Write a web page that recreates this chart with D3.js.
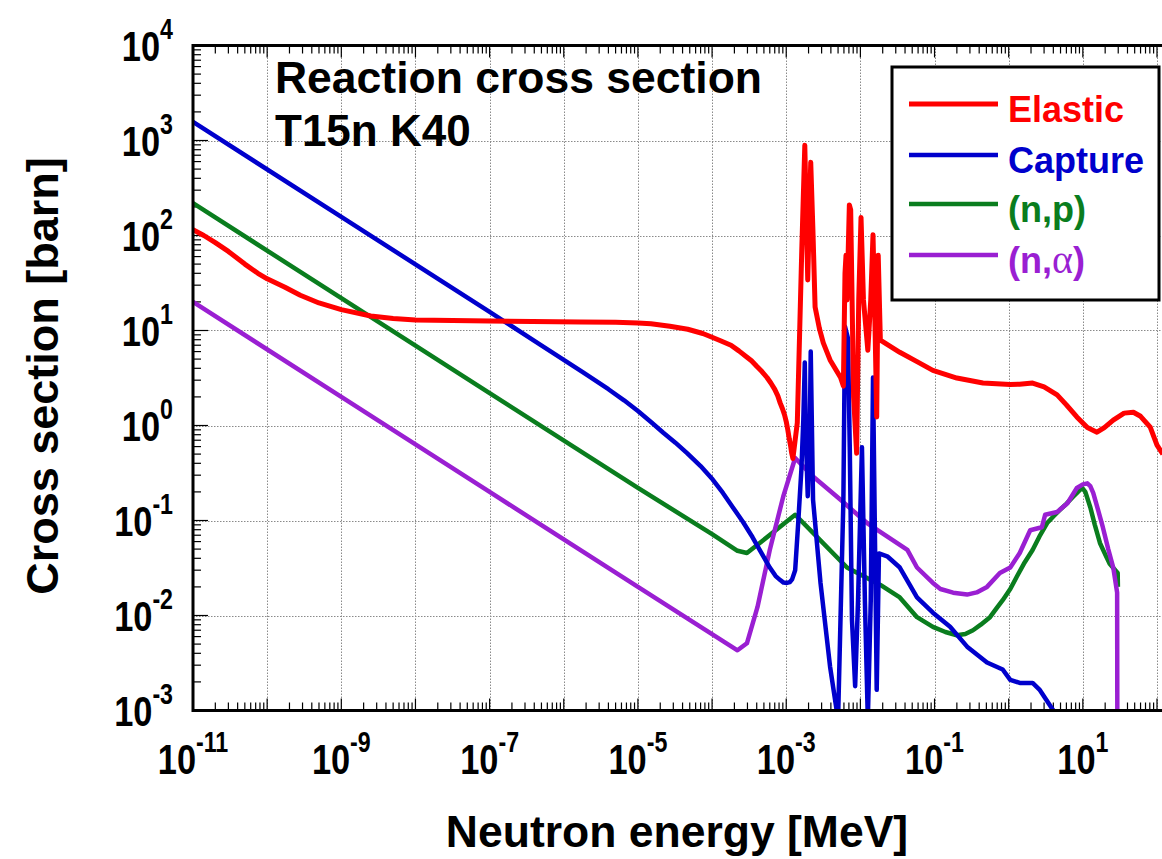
<!DOCTYPE html>
<html>
<head>
<meta charset="utf-8">
<script src="https://cdn.jsdelivr.net/npm/d3@7"></script>
<style>
  html, body { margin: 0; padding: 0; background: #fff; }
  svg { display: block; }
  text { font-family: "Liberation Sans", Arial, Helvetica, sans-serif; font-weight: bold; }
</style>
</head>
<body>
<svg id="chart" width="1162" height="859"></svg>
<script>
// ---------------- data ----------------
const elasticE = [1e-11, 1.4e-11, 2e-11, 3e-11, 5e-11, 7.5e-11, 1e-10, 1.74e-10, 2.8e-10, 5e-10, 1e-9, 2.5e-9, 5e-9, 1e-8, 1e-7, 1.7e-6, 5e-6, 1e-5, 1.5e-5, 2.7e-5, 4.7e-5, 7.5e-5, 1e-4, 1.3e-4, 1.8e-4, 2.3e-4, 2.9e-4, 3.4e-4, 4e-4, 4.7e-4, 5.5e-4, 6.2e-4, 7e-4, 7.7e-4, 8.3e-4, 8.9e-4, 9.5e-4, 1.0e-3, 1.05e-3, 1.1e-3, 1.15e-3, 1.18e-3, 1.23e-3, 1.41e-3, 1.62e-3, 1.78e-3, 1.95e-3, 2.14e-3, 2.29e-3, 2.45e-3, 2.8e-3, 3.16e-3, 3.9e-3, 5.4e-3, 5.9e-3, 6.2e-3, 6.4e-3, 6.6e-3, 7.1e-3, 7.4e-3, 8.1e-3, 8.9e-3, 9.5e-3, 1.02e-2, 1.1e-2, 1.26e-2, 1.38e-2, 1.48e-2, 1.58e-2, 1.66e-2, 1.74e-2, 1.86e-2, 3.4e-2, 5.8e-2, 9.5e-2, 0.2, 0.45, 1.05, 1.4, 2.1, 3.0, 4.5, 6.0, 8.3, 11.5, 15.5, 19.5, 25.7, 36, 48, 60, 81, 100, 120];
const elasticXS = [115, 100, 84, 68, 50, 40, 35, 28.5, 23.5, 19.5, 16.6, 14.2, 13.4, 12.9, 12.6, 12.3, 12.2, 12.0, 11.8, 11.1, 10.3, 9.3, 8.5, 7.8, 7.0, 6.1, 5.3, 4.8, 4.2, 3.7, 3.2, 2.8, 2.4, 2.05, 1.72, 1.5, 1.29, 1.1, 0.9, 0.72, 0.6, 0.52, 0.45, 1.07, 70, 890, 34, 590, 115, 17.7, 10.5, 7.4, 4.9, 3.2, 2.6, 40, 62, 21, 210, 186, 2.0, 0.51, 21, 155, 21, 6.2, 21, 102, 10, 1.23, 62, 7.9, 5.9, 4.7, 3.8, 3.16, 2.8, 2.7, 2.72, 2.8, 2.55, 2.1, 1.65, 1.23, 0.95, 0.85, 0.95, 1.14, 1.35, 1.38, 1.25, 0.96, 0.62, 0.5];

const captureE = [1e-11, 1e-9, 1e-7, 4.8e-7, 1.8e-6, 4e-6, 6.5e-6, 1e-5, 1.5e-5, 2.2e-5, 3.2e-5, 4.6e-5, 7e-5, 1.02e-4, 1.4e-4, 1.9e-4, 2.6e-4, 3.5e-4, 4.6e-4, 6.0e-4, 7.2e-4, 8.3e-4, 9.2e-4, 1.02e-3, 1.12e-3, 1.2e-3, 1.32e-3, 1.45e-3, 1.6e-3, 1.7e-3, 1.78e-3, 1.83e-3, 1.95e-3, 2.08e-3, 2.14e-3, 2.3e-3, 2.9e-3, 3.9e-3, 5.0e-3, 5.9e-3, 6.2e-3, 6.8e-3, 7.2e-3, 7.7e-3, 8.5e-3, 9.3e-3, 1.05e-2, 1.15e-2, 1.26e-2, 1.38e-2, 1.48e-2, 1.58e-2, 1.66e-2, 1.78e-2, 2.3e-2, 3.4e-2, 5.8e-2, 9.5e-2, 0.162, 0.275, 0.51, 0.83, 1.05, 1.41, 2.1, 2.6, 4.0, 4.6];
const captureXS = [1570, 157, 15.7, 7.1, 3.65, 2.41, 1.84, 1.42, 1.09, 0.84, 0.66, 0.512, 0.374, 0.27, 0.195, 0.138, 0.097, 0.067, 0.046, 0.032, 0.026, 0.0236, 0.0222, 0.022, 0.0225, 0.024, 0.030, 0.094, 0.34, 1.15, 4.6, 0.9, 0.18, 0.9, 6.0, 0.165, 0.022, 2.9e-3, 8e-4, 0.165, 11, 8.3, 0.55, 9e-3, 1.8e-3, 0.0145, 0.59, 0.0145, 8e-4, 0.0145, 3.2, 0.049, 1.65e-3, 0.045, 0.042, 0.032, 0.0155, 0.0107, 7.6e-3, 4.7e-3, 3.2e-3, 2.7e-3, 2.1e-3, 1.95e-3, 1.95e-3, 1.66e-3, 1e-3, 7e-4];

const npE = [1e-11, 1e-9, 1e-7, 1e-5, 1e-4, 2.2e-4, 2.95e-4, 4.9e-4, 1.32e-3, 2.3e-3, 6.6e-3, 1.86e-2, 3.4e-2, 5.8e-2, 9.5e-2, 0.14, 0.2, 0.26, 0.33, 0.42, 0.56, 0.68, 0.83, 1.05, 1.29, 1.6, 2.1, 2.6, 3.3, 4.0, 4.9, 6.0, 7.4, 8.6, 9.8, 10.8, 12.6, 14.5, 17, 20, 23, 29.5, 29.7];
const npXS = [219, 21.9, 2.19, 0.22, 0.072, 0.048, 0.0455, 0.062, 0.115, 0.074, 0.032, 0.021, 0.0155, 9.6e-3, 7.6e-3, 6.7e-3, 6.2e-3, 6.4e-3, 7.0e-3, 8.0e-3, 9.6e-3, 0.0118, 0.0145, 0.019, 0.0257, 0.035, 0.049, 0.068, 0.094, 0.11, 0.129, 0.15, 0.178, 0.2, 0.22, 0.2, 0.138, 0.09, 0.058, 0.044, 0.035, 0.028, 0.02];

const naE = [1e-11, 1e-9, 1e-7, 1e-5, 2.2e-4, 2.95e-4, 4.1e-4, 6.0e-4, 9.1e-4, 1.32e-3, 2.3e-3, 5.4e-3, 1.23e-2, 4.3e-2, 5.8e-2, 9.5e-2, 0.12, 0.178, 0.275, 0.37, 0.51, 0.76, 1.05, 1.41, 1.95, 2.8, 3.1, 4.5, 6.2, 8.3, 10, 11.5, 12.6, 13.8, 16, 18.6, 22, 25.7, 29, 29.2];
const naXS = [20, 2.0, 0.2, 0.02, 4.3e-3, 5.1e-3, 0.0123, 0.049, 0.178, 0.455, 0.29, 0.165, 0.094, 0.049, 0.032, 0.022, 0.019, 0.0174, 0.0166, 0.0175, 0.020, 0.028, 0.032, 0.0455, 0.079, 0.085, 0.115, 0.123, 0.152, 0.22, 0.24, 0.246, 0.23, 0.195, 0.13, 0.085, 0.05, 0.032, 0.0174, 5e-4];

const seriesNames = ["Elastic", "Capture", "(n,p)", "(n,\u03B1)"];
const seriesColors = ["#ff0000", "#0000cc", "#0a7d1e", "#9a1fd2"];
const xTickExponents = [-11, -9, -7, -5, -3, -1, 1];
const yTickExponents = [-3, -2, -1, 0, 1, 2, 3, 4];
const titleLines = ["Reaction cross section", "T15n K40"];
const xTitle = "Neutron energy [MeV]";
const yTitle = "Cross section [barn]";

// ---------------- layout ----------------
const L = 193, R = 1157, T = 45.5, B = 710.5, W = 1162;
const x = d3.scaleLog().domain([1e-11, 1e2]).range([L, R]);
const y = d3.scaleLog().domain([1e-3, 1e4]).range([B, T]);

const svg = d3.select("#chart");
svg.append("rect").attr("width", 1162).attr("height", 859).attr("fill", "#fff");

svg.append("defs").append("clipPath").attr("id", "plotclip")
  .append("rect").attr("x", L).attr("y", T).attr("width", W - L).attr("height", B - T);

// grid
const xDecades = d3.range(-11, 3).map(e => Math.pow(10, e));
const yDecades = d3.range(-3, 5).map(e => Math.pow(10, e));
const grid = svg.append("g").attr("stroke", "#8a8a8a").attr("stroke-width", 1).attr("stroke-dasharray", "1.5,1.5");
grid.selectAll("line.vx").data(xDecades.slice(1)).join("line")
  .attr("x1", d => Math.round(x(d)) + 0.5).attr("x2", d => Math.round(x(d)) + 0.5)
  .attr("y1", T).attr("y2", B);
grid.selectAll("line.hy").data(yDecades.slice(1, -1)).join("line")
  .attr("x1", L).attr("x2", W)
  .attr("y1", d => Math.round(y(d)) + 0.5).attr("y2", d => Math.round(y(d)) + 0.5);

// minor/major ticks
const xMinor = [], yMinor = [];
d3.range(-11, 3).forEach(e => { for (let k = 2; k <= 9; k++) xMinor.push(k * Math.pow(10, e)); });
d3.range(-3, 4).forEach(e => { for (let k = 2; k <= 9; k++) yMinor.push(k * Math.pow(10, e)); });
const ticks = svg.append("g").attr("stroke", "#000").attr("stroke-width", 1.2);
ticks.selectAll("line.bm").data(xMinor).join("line")
  .attr("x1", d => x(d)).attr("x2", d => x(d)).attr("y1", B).attr("y2", B - 8);
ticks.selectAll("line.bM").data(xDecades).join("line")
  .attr("x1", d => x(d)).attr("x2", d => x(d)).attr("y1", B).attr("y2", B - 12);
ticks.selectAll("line.tm").data(xMinor).join("line")
  .attr("x1", d => x(d)).attr("x2", d => x(d)).attr("y1", T).attr("y2", T + 8);
ticks.selectAll("line.tM").data(xDecades).join("line")
  .attr("x1", d => x(d)).attr("x2", d => x(d)).attr("y1", T).attr("y2", T + 12);
ticks.selectAll("line.lm").data(yMinor).join("line")
  .attr("x1", L).attr("x2", L + 8).attr("y1", d => y(d)).attr("y2", d => y(d));
ticks.selectAll("line.lM").data(yDecades).join("line")
  .attr("x1", L).attr("x2", L + 15).attr("y1", d => y(d)).attr("y2", d => y(d));

// curves
const line = d3.line().x(d => x(d[0])).y(d => y(d[1])).curve(d3.curveLinear);
const series = [
  d3.zip(npE, npXS),
  d3.zip(naE, naXS),
  d3.zip(captureE, captureXS),
  d3.zip(elasticE, elasticXS)
];
const seriesIdx = [2, 3, 1, 0];
const curves = svg.append("g").attr("clip-path", "url(#plotclip)");
series.forEach((s, i) => {
  const idx = seriesIdx[i];
  curves.append("path").datum(s)
    .attr("d", line)
    .attr("fill", "none")
    .attr("stroke", seriesColors[idx])
    .attr("stroke-width", idx === 0 ? 5 : 4.5)
    .attr("stroke-linejoin", "round");
});

// frame
svg.append("path")
  .attr("d", `M${W},${T} L${L},${T} L${L},${B} L${W},${B}`)
  .attr("fill", "none").attr("stroke", "#000").attr("stroke-width", 3);

// tick labels
const xl = svg.append("g");
xTickExponents.forEach(e => {
  const g = xl.append("g").attr("transform", `translate(${x(Math.pow(10, e))},774) scale(0.8,1)`);
  const t = g.append("text").attr("text-anchor", "middle").attr("font-size", 43);
  t.append("tspan").text("10");
  t.append("tspan").attr("font-size", 29).attr("dy", -22).text(e);
});
const yl = svg.append("g");
yTickExponents.forEach(e => {
  const g = yl.append("g").attr("transform", `translate(173,${y(Math.pow(10, e)) + 15}) scale(0.8,1)`);
  const t = g.append("text").attr("text-anchor", "end").attr("font-size", 43);
  t.append("tspan").text("10");
  t.append("tspan").attr("font-size", 29).attr("dy", -22).text(e);
});

// axis titles
svg.append("text").attr("x", 677).attr("y", 847).attr("text-anchor", "middle")
  .attr("font-size", 44.5).text(xTitle);
svg.append("text").attr("transform", "translate(58,376) rotate(-90)").attr("text-anchor", "middle")
  .attr("font-size", 45).text(yTitle);

// title
svg.append("text").attr("x", 275).attr("y", 93).attr("font-size", 44)
  .attr("textLength", 487).attr("lengthAdjust", "spacingAndGlyphs").text(titleLines[0]);
svg.append("text").attr("x", 275).attr("y", 146).attr("font-size", 44).text(titleLines[1]);

// legend
const lg = svg.append("g");
lg.append("rect").attr("x", 892).attr("y", 67).attr("width", 267).attr("height", 233)
  .attr("fill", "#fff").attr("stroke", "#000").attr("stroke-width", 3);
const legendY = [104, 155, 204, 255];
seriesNames.forEach((name, i) => {
  lg.append("line").attr("x1", 909).attr("x2", 998).attr("y1", legendY[i]).attr("y2", legendY[i])
    .attr("stroke", seriesColors[i]).attr("stroke-width", i === 0 ? 5 : 4.5);
  const t = lg.append("text").attr("x", 1008).attr("y", legendY[i] + 18)
    .attr("font-size", 36).attr("fill", seriesColors[i]);
  if (name.includes("\u03B1")) {
    t.append("tspan").text("(n,");
    t.append("tspan").attr("font-family", "'Liberation Serif', 'Times New Roman', serif")
      .attr("font-weight", "normal").attr("font-size", 40).text("\u03B1");
    t.append("tspan").text(")");
  } else {
    t.text(name);
  }
});
</script>
</body>
</html>
